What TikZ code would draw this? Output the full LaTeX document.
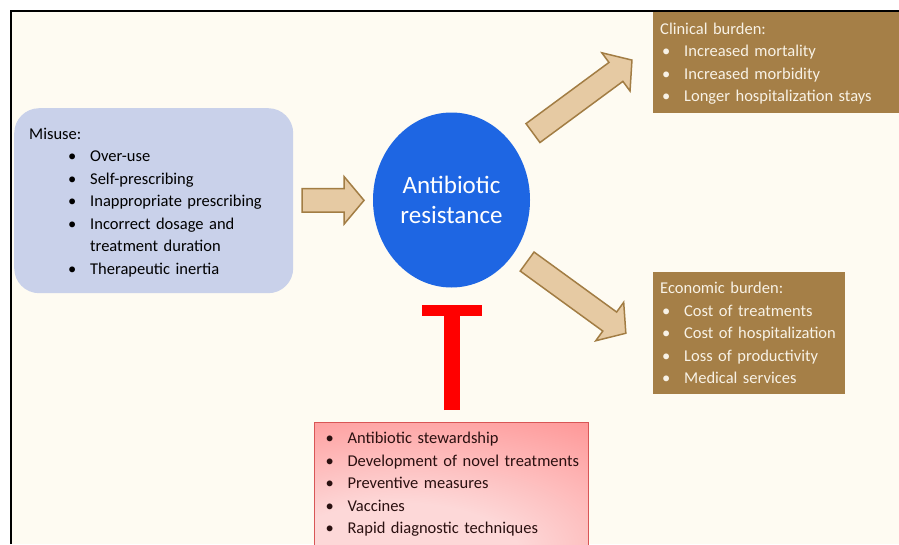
\documentclass[tikz,border=0pt]{standalone}
\usepackage{fontspec}
\setmainfont{Carlito}
\usetikzlibrary{calc,positioning,shapes.geometric,shapes.arrows,arrows.meta}

\definecolor{paper}{HTML}{FEFBF2}
\definecolor{misusebg}{HTML}{C9D1EA}
\definecolor{resblue}{HTML}{1E66E3}
\definecolor{tanfill}{HTML}{E6CAA3}
\definecolor{tanline}{HTML}{A27D44}
\definecolor{burden}{HTML}{A57F47}
\definecolor{burdentext}{HTML}{F8F2E6}
\definecolor{redout}{HTML}{FF7474}
\definecolor{redin}{HTML}{FDD8D8}
\definecolor{redline}{HTML}{D85656}
\definecolor{redtext}{HTML}{2A1010}

\pgfdeclareradialshading{redglow}{\pgfpoint{-12bp}{-38bp}}{%
  color(0bp)=(redin); color(22bp)=(redin); color(70bp)=(redout); color(100bp)=(redout)}

\newcommand{\bul}[2][0pt]{\hspace*{#1}\makebox[22pt][l]{\textbullet}#2}

\tikzset{
  listbox/.style={anchor=north west, align=left, inner ysep=0pt,
    font=\fontsize{16.5}{22.5}\selectfont},
  fatarrow/.style={single arrow, fill=tanfill, draw=tanline, line width=1.5pt,
    inner sep=0pt, inner ysep=11pt, minimum width=47pt,
    single arrow head extend=12pt, single arrow tip angle=100},
  inhibit/.style={red, line width=16pt,
    -{Rectangle[length=11pt,width=60pt,line width=0pt]}}
}

\begin{document}
\begin{tikzpicture}[x=1pt,y=-1pt]
                \useasboundingbox (0,0) rectangle (899,544);
                \fill[white] (0,0) rectangle (899,544);
                \fill[paper] (11,11) rectangle (899,544);
                \draw[line width=2.5pt] (11,544) -- (11,11) -- (899,11);
                % causes
                \node[listbox, fill=misusebg, rounded corners=25pt, text width=249pt, inner xsep=15pt, minimum height=185pt] (misuse) at (14,108)
                    {\rule{0pt}{14.5pt}Misuse:\\ \bul[39pt]{Over-use}\\ \bul[39pt]{Self-prescribing}\\ \bul[39pt]{Inappropriate prescribing}\\
                     \bul[39pt]{Incorrect dosage and}\\ \hspace*{61pt}treatment duration\\ \bul[39pt]{Therapeutic inertia}};
                \node[ellipse, fill=resblue, text=white, minimum width=157pt, minimum height=175pt, inner sep=0pt, align=center,
                      font=\fontsize{25}{30}\selectfont] (resist) at (451.5,200) {Antibiotic\\resistance};
                % consequences
                \node[listbox, fill=burden, text=burdentext, text width=232pt, inner xsep=7pt, minimum height=101pt] (clinical) at (653,12)
                    {\rule{0pt}{13.5pt}Clinical burden:\\ \bul[2pt]{Increased mortality}\\ \bul[2pt]{Increased morbidity}\\ \bul[2pt]{Longer hospitalization stays}};
                \node[listbox, fill=burden, text=burdentext, text width=178pt, inner xsep=7pt, minimum height=122pt] (economic) at (653,272)
                    {Economic burden:\\ \bul[2pt]{Cost of treatments}\\ \bul[2pt]{Cost of hospitalization}\\ \bul[2pt]{Loss of productivity}\\ \bul[2pt]{Medical services}};
                % counter-measures
                \node[listbox, shading=redglow, draw=redline, line width=1pt, text=redtext, text width=256pt, inner xsep=9pt, minimum height=123pt] (measures) at (314,422)
                    {\rule{0pt}{12.5pt}\bul[2pt]{Antibiotic stewardship}\\ \bul[2pt]{Development of novel treatments}\\ \bul[2pt]{Preventive measures}\\ \bul[2pt]{Vaccines}\\ \bul[2pt]{Rapid diagnostic techniques}};
                % block arrows
                \node[fatarrow, minimum height=62pt, xshift=-5pt] (arr-in) at ($(misuse.east)!0.5!(resist.west)$) {};
                \node[fatarrow, minimum height=123pt, rotate=36.4] (arr-clin) at (578.5,99.5) {};
                \node[fatarrow, minimum height=122pt, rotate=-36] (arr-econ) at (572.5,294.5) {};
                \draw[inhibit] ([yshift=12pt]measures.north) -- ([yshift=-17pt]resist.south);
            \end{tikzpicture}
\end{document}
